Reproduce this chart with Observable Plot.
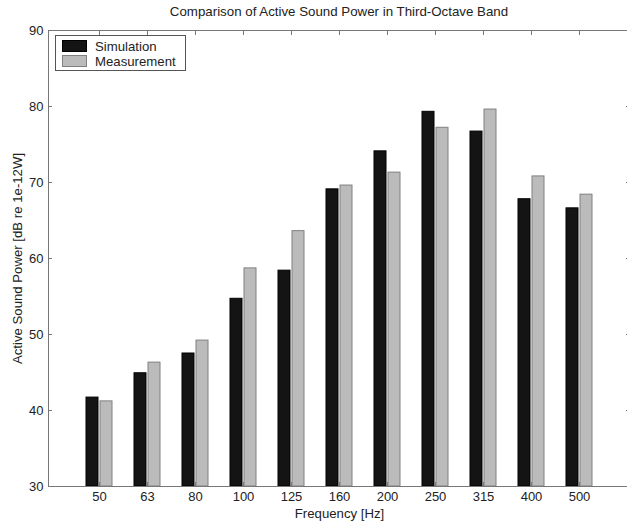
<!DOCTYPE html>
<html><head><meta charset="utf-8">
<script src="https://cdn.jsdelivr.net/npm/d3@7"></script>
<script src="https://cdn.jsdelivr.net/npm/@observablehq/plot@0.6"></script>
<style>
html,body{margin:0;padding:0;background:#fff;overflow:hidden;width:627px;height:522px}
#wrap{position:relative;width:632px;font-family:"Liberation Sans",Arial,sans-serif;}
#title{height:22px;line-height:24px;font-size:13.3px;color:#222;text-align:center;width:582px;margin-left:48px;white-space:nowrap}
#legend{position:absolute;left:55px;top:35px;width:129px;height:34px;border:1px solid #555;background:#fff;font-size:13.2px;color:#222}
.row{position:absolute;left:6px;height:12px;display:flex;align-items:center;white-space:nowrap}
.sw{width:25px;height:12px;margin-right:8px;box-sizing:border-box}
svg{display:block}
</style>
</head><body>
<div id="wrap">
  <div id="title"></div>
  <div id="chart"></div>
  <div id="legend"></div>
</div>
<script>
const titleText = "Comparison of Active Sound Power in Third-Octave Band";
const xLabel = "Frequency [Hz]";
const yLabel = "Active Sound Power [dB re 1e-12W]";
const freqs = ["50","63","80","100","125","160","200","250","315","400","500"];
const simulation = [41.7,44.9,47.5,54.7,58.4,69.1,74.1,79.3,76.7,67.8,66.6];
const measurement = [41.2,46.3,49.2,58.7,63.6,69.6,71.3,77.2,79.6,70.8,68.4];
const yTicks = [30,40,50,60,70,80,90];
const yDomain = [30,90];
const series = ["Simulation","Measurement"];
const fills = ["#141414","#bbbbbb"];
const strokes = ["#000000","#808080"];

document.getElementById("title").textContent = titleText;

const legend = document.getElementById("legend");
series.forEach((s,i)=>{
  const r = document.createElement("div");
  r.className = "row";
  r.style.top = (4 + i*15) + "px";
  const sw = document.createElement("div");
  sw.className = "sw";
  sw.style.background = fills[i];
  sw.style.border = "1px solid " + strokes[i];
  const t = document.createElement("span");
  t.textContent = s;
  r.appendChild(sw); r.appendChild(t);
  legend.appendChild(r);
});

const axisColor = "#777";
const chart = Plot.plot({
  width: 632,
  height: 500,
  marginTop: 8,
  marginBottom: 36,
  marginLeft: 48,
  marginRight: 2,
  style: {fontFamily: "'Liberation Sans', Arial, sans-serif", fontSize: "13px", color: "#222", background: "#fff"},
  x: {type: "band", domain: freqs, paddingInner: 0.464, paddingOuter: 0.732, label: null},
  y: {domain: yDomain, label: null},
  marks: [
    Plot.barY(freqs, {x: d => d, y1: yDomain[0], y2: (d,i) => simulation[i], fill: fills[0], stroke: strokes[0], insetRight: 14}),
    Plot.barY(freqs, {x: d => d, y1: yDomain[0], y2: (d,i) => measurement[i], fill: fills[1], stroke: strokes[1], insetLeft: 14}),
    Plot.frame({stroke: axisColor}),
    Plot.axisX({anchor: "bottom", tickSize: 0, tickPadding: 5, label: null, fill: "#222", fontSize: 13}),
    Plot.axisX({anchor: "bottom", tickSize: -4, text: null, label: null, stroke: axisColor}),
    Plot.axisX({anchor: "top", tickSize: -4, text: null, label: null, stroke: axisColor}),
    Plot.axisY(yTicks, {anchor: "left", tickSize: 0, tickPadding: 5, label: null, fill: "#222", fontSize: 13}),
    Plot.axisY(yTicks, {anchor: "left", tickSize: -4, text: null, label: null, stroke: axisColor}),
    Plot.axisY(yTicks, {anchor: "right", tickSize: -5, text: null, label: null, stroke: axisColor}),
    Plot.text([xLabel], {text: d => d, frameAnchor: "bottom", dy: 27, textAnchor: "middle", lineAnchor: "middle", fill: "#222", fontSize: 13.2}),
    Plot.text([yLabel], {text: d => d, frameAnchor: "left", dx: -31, textAnchor: "middle", lineAnchor: "middle", rotate: -90, fill: "#222", fontSize: 13.2})
  ]
});
document.getElementById("chart").appendChild(chart);
</script>
</body></html>
